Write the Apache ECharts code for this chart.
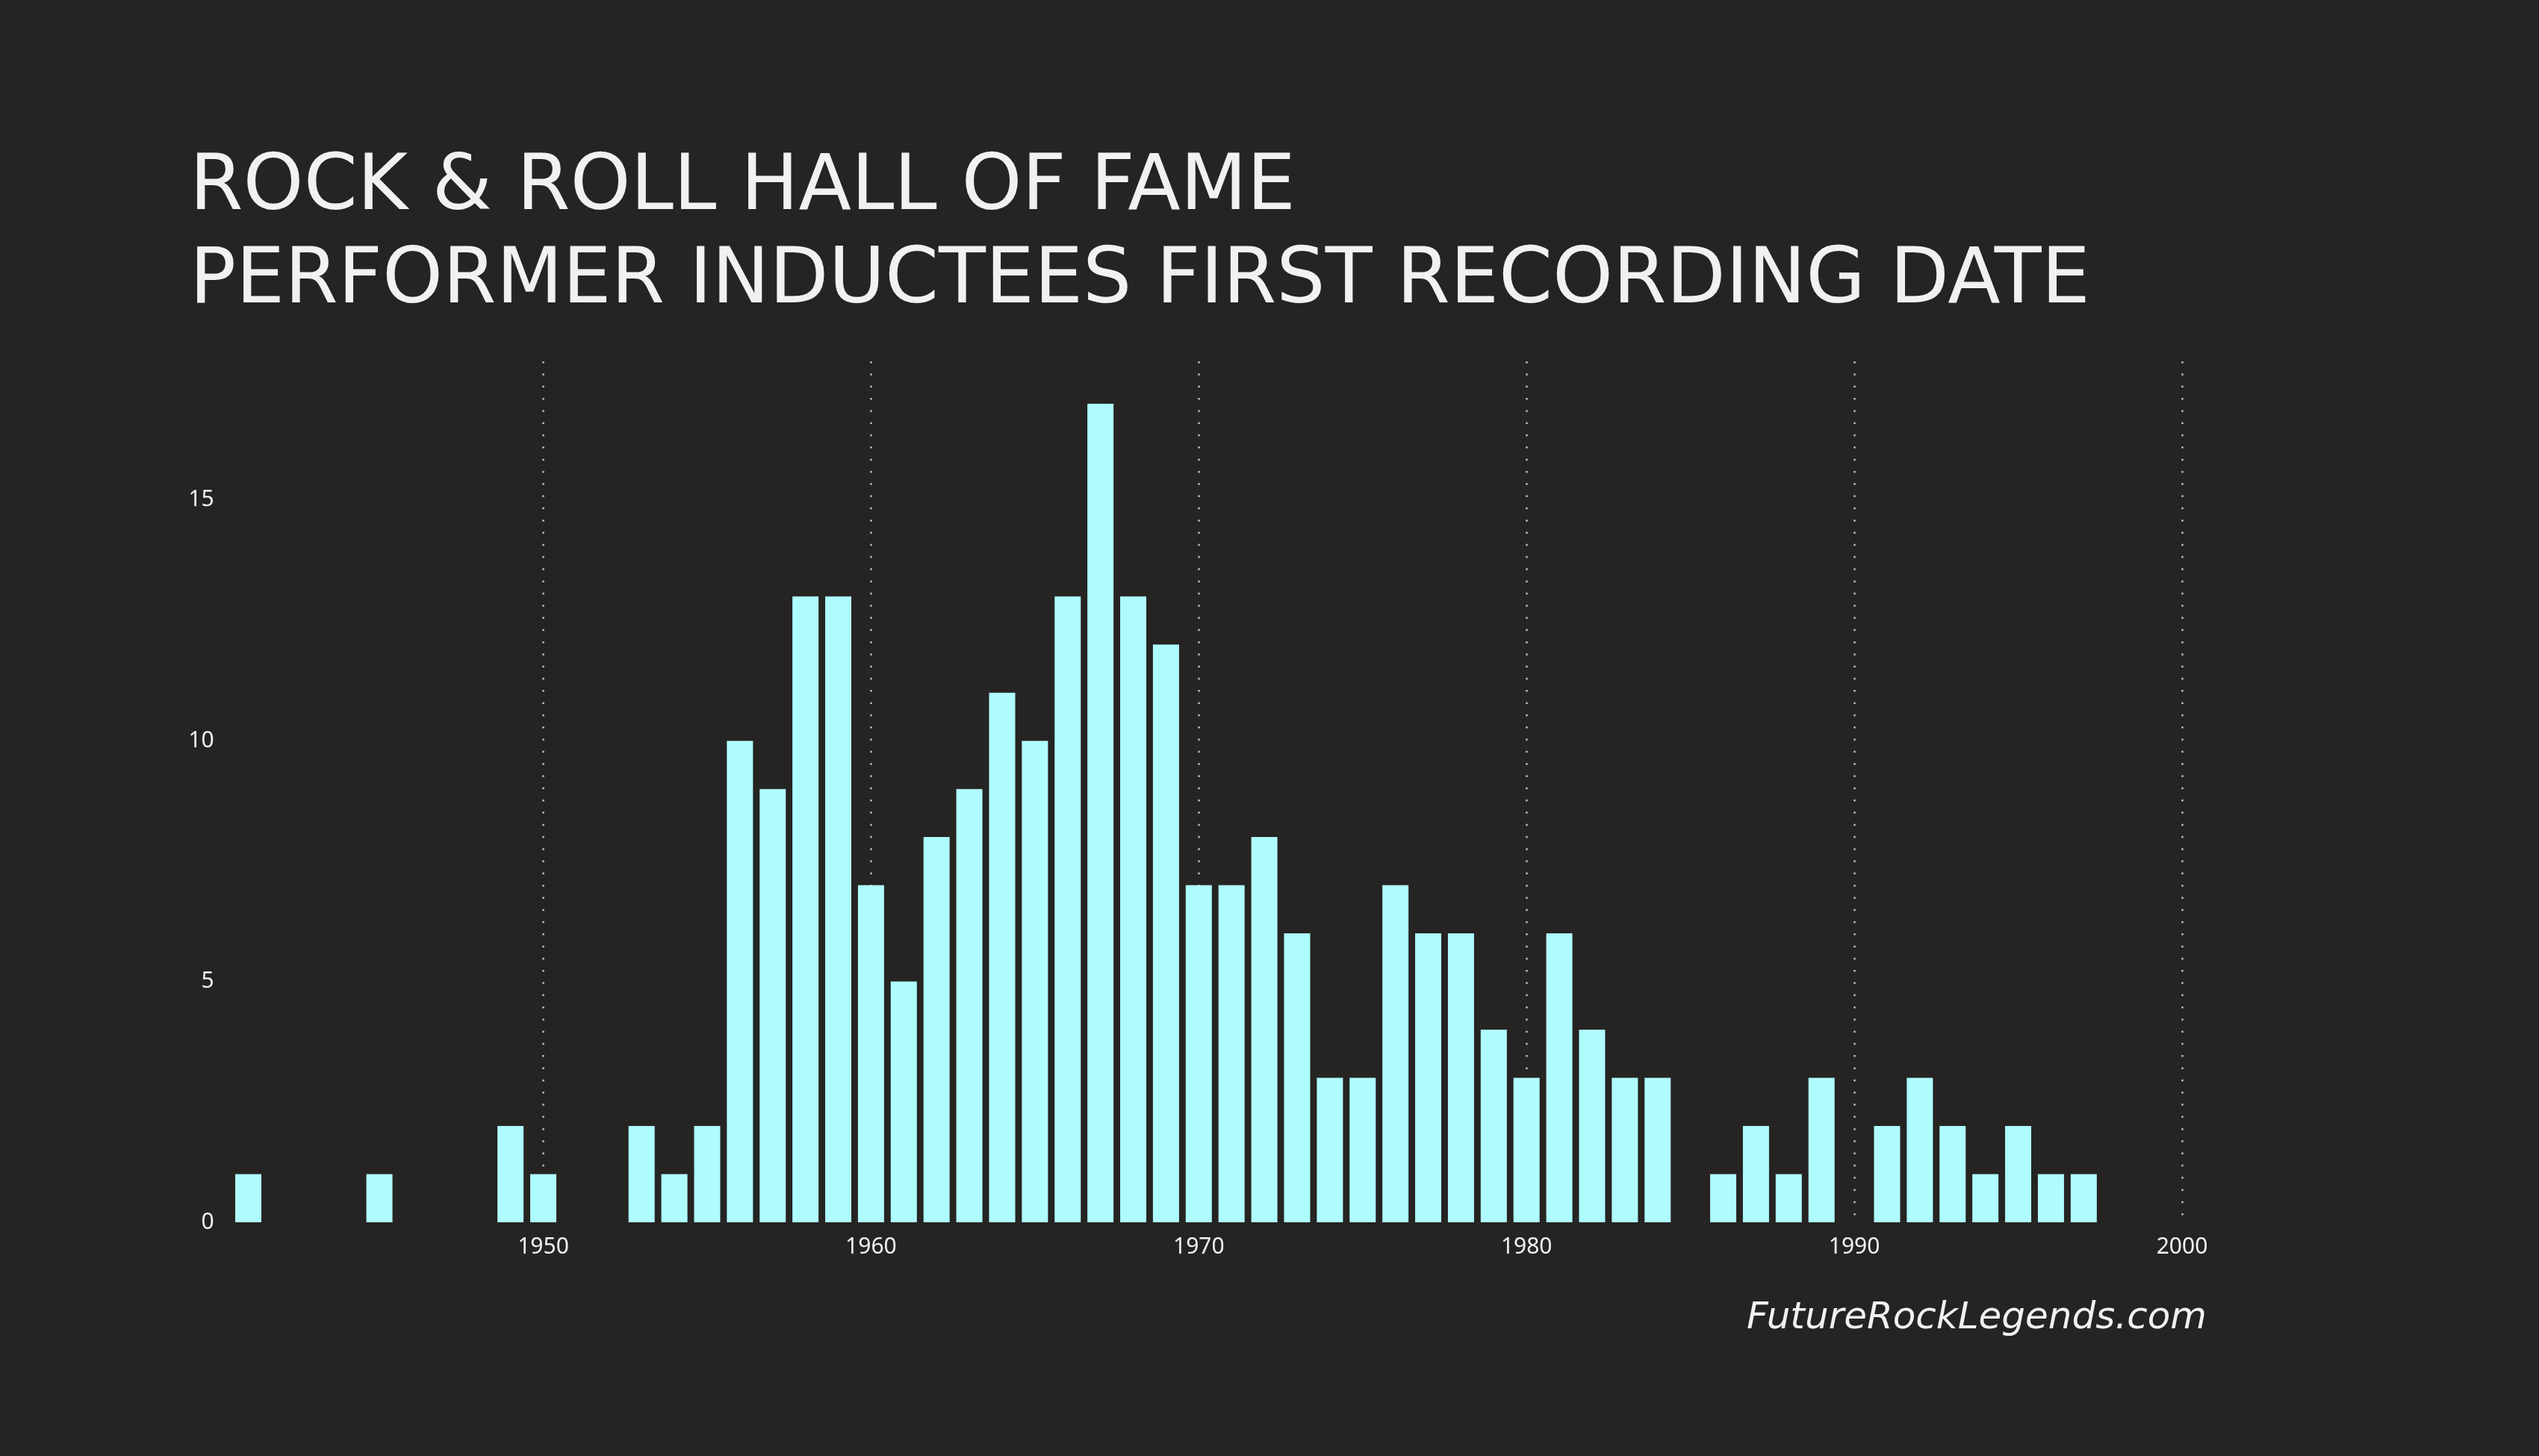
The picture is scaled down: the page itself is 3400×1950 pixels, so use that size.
<!DOCTYPE html>
<html>
<head>
<meta charset="utf-8">
<script src="https://cdn.jsdelivr.net/npm/echarts@6/dist/echarts.min.js"></script>
<style>
html,body{margin:0;padding:0;background:#252423;}
#chart{width:3400px;height:1950px;}
</style>
</head>
<body>
<div id="chart"></div>
<script>
const titleLines = ["ROCK & ROLL HALL OF FAME", "PERFORMER INDUCTEES FIRST RECORDING DATE"];
const watermark = "FutureRockLegends.com";
const years = [1941,1945,1949,1950,1953,1954,1955,1956,1957,1958,1959,1960,1961,1962,1963,1964,1965,1966,1967,1968,1969,1970,1971,1972,1973,1974,1975,1976,1977,1978,1979,1980,1981,1982,1983,1984,1986,1987,1988,1989,1991,1992,1993,1994,1995,1996,1997];
const counts = [1,1,2,1,2,1,2,10,9,13,13,7,5,8,9,11,10,13,17,13,12,7,7,8,6,3,3,7,6,6,4,3,6,4,3,3,1,2,1,3,2,3,2,1,2,1,1];
const xTicks = [1950,1960,1970,1980,1990,2000];
const yTicks = [0,5,10,15];

const chart = echarts.init(document.getElementById('chart'), null, {renderer:'canvas'});
chart.setOption({
  backgroundColor:'#252423',
  animation:false,
  title:{
    text: titleLines.join('\n'),
    left: 249, top: 186,
    textStyle:{color:'#F1F1F1', fontFamily:'DejaVu Sans', fontWeight:'normal', fontSize:103, lineHeight:125}
  },
  graphic:[{
    type:'text', right: 3400-2955, top: 1741,
    style:{text: watermark, fill:'#F1F1F1', font:'italic 50px "DejaVu Sans"', textAlign:'right'}
  }],
  grid:{left:288.6, right:3400-2922, top:484, bottom:313, containLabel:false},
  xAxis:{
    type:'value', min:1940, max:2000, interval:10,
    axisLine:{show:false}, axisTick:{show:false},
    axisLabel:{color:'#F1F1F1', fontFamily:'Noto Sans', fontSize:30, margin:18, showMinLabel:false,
      formatter: v => xTicks.includes(v) ? String(v) : ''},
    splitLine:{show:true, showMinLine:false, lineStyle:{color:'#bdbdbd', width:2.5, type:[2.5,13.8]}}
  },
  yAxis:{
    type:'value', min:0, max:17.88, interval:5,
    axisLine:{show:false}, axisTick:{show:false},
    axisLabel:{color:'#F1F1F1', fontFamily:'Noto Sans', fontSize:30, margin:2, showMaxLabel:false,
      formatter: v => yTicks.includes(v) ? String(v) : ''},
    splitLine:{show:false}
  },
  series:[{
    type:'bar',
    data: years.map((y,i)=>[y, counts[i]]),
    barWidth:35,
    itemStyle:{color:'#AFFCFE'}
  }]
});
</script>
</body>
</html>
